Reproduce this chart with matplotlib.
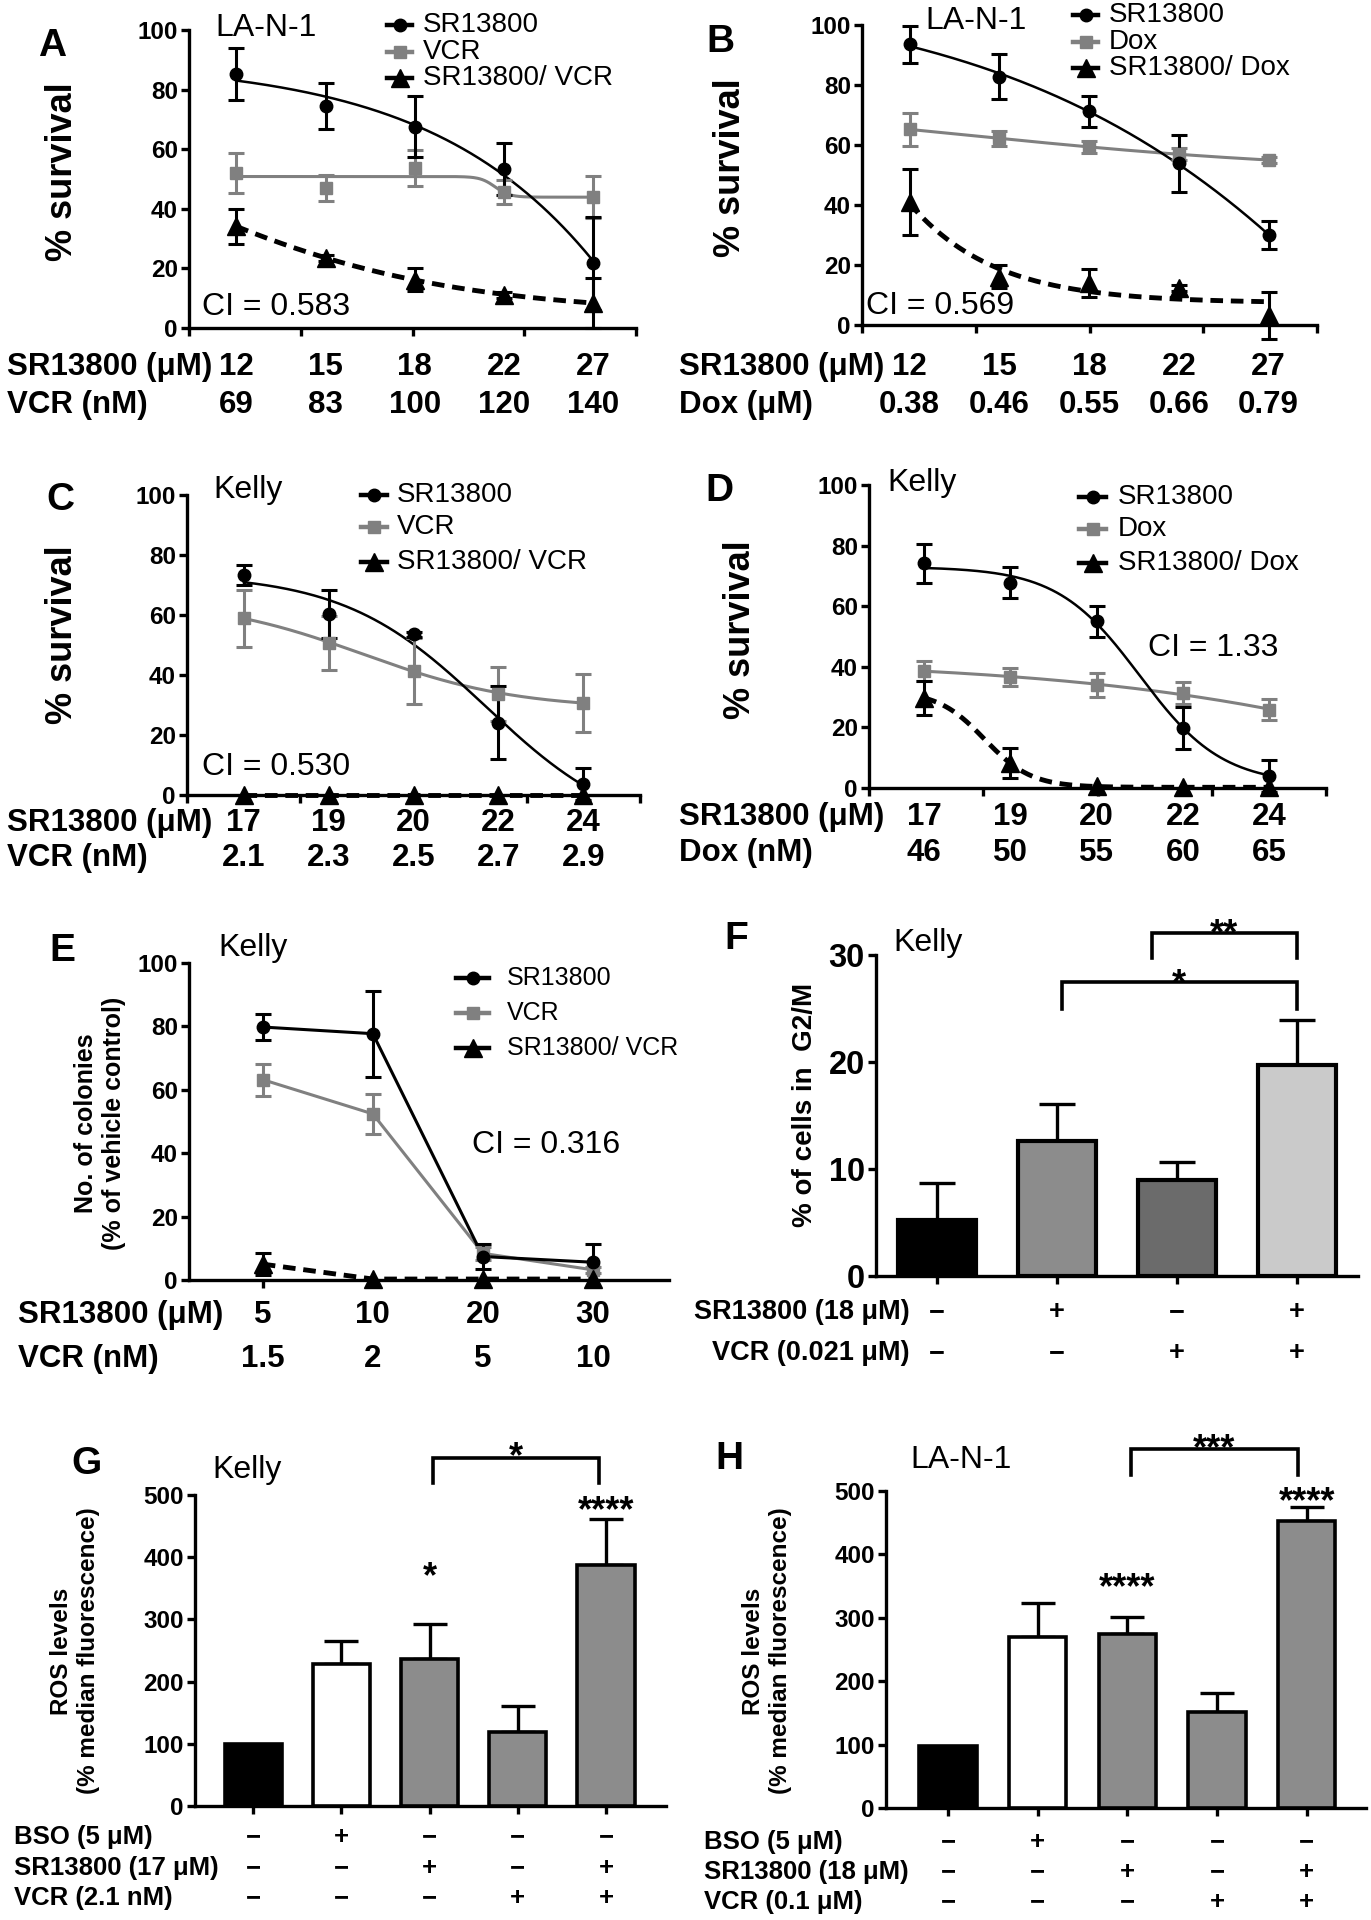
import numpy as np
import matplotlib
matplotlib.use("Agg")
import matplotlib.pyplot as plt
from matplotlib.lines import Line2D
from matplotlib.transforms import blended_transform_factory

W, H = 1371, 1920
plt.rcParams['font.family'] = ['Liberation Sans', 'DejaVu Sans']

# ---------------- data ----------------
# panel A  (LA-N-1, SR13800 + VCR)
sr_A = [85.3, 74.5, 67.6, 53.3, 21.8]
sr_A_err = [8.7, 7.6, 10.3, 8.7, 15.6]
vcr_A = [52.0, 46.9, 53.6, 45.5, 43.9]
vcr_A_err = [6.7, 4.3, 6.0, 4.0, 7.0]
combo_A = [34.1, 23.5, 16.2, 11.2, 8.4]
combo_A_err = [5.8, 1.0, 3.8, 1.0, 8.4]
sr_A_dose = ["12", "15", "18", "22", "27"]
vcr_A_dose = ["69", "83", "100", "120", "140"]

# panel B  (LA-N-1, SR13800 + Dox)
sr_B = [93.6, 82.8, 71.3, 53.9, 30.0]
sr_B_err = [6.2, 7.5, 5.2, 9.5, 4.8]
dox_B = [65.2, 62.2, 59.4, 56.9, 55.0]
dox_B_err = [5.4, 2.5, 2.0, 2.0, 1.0]
combo_B = [41.0, 16.1, 14.0, 12.4, 3.3]
combo_B_err = [11.0, 3.8, 4.8, 1.0, 7.8]
sr_B_dose = ["12", "15", "18", "22", "27"]
dox_B_dose = ["0.38", "0.46", "0.55", "0.66", "0.79"]

# panel C  (Kelly, SR13800 + VCR)
sr_C = [73.3, 60.4, 53.6, 24.1, 3.6]
sr_C_err = [3.4, 8.0, 0.8, 12.2, 5.3]
vcr_C = [58.9, 50.8, 41.4, 33.8, 30.8]
vcr_C_err = [9.4, 9.0, 11.0, 9.0, 9.7]
combo_C = [0.0, 0.0, 0.0, 0.0, 0.0]
combo_C_err = [0.0, 0.0, 0.0, 0.0, 0.0]
sr_C_dose = ["17", "19", "20", "22", "24"]
vcr_C_dose = ["2.1", "2.3", "2.5", "2.7", "2.9"]

# panel D  (Kelly, SR13800 + Dox)
sr_D = [74.2, 67.8, 55.0, 19.8, 4.1]
sr_D_err = [6.4, 5.0, 5.0, 6.9, 5.3]
dox_D = [38.7, 36.5, 34.1, 31.3, 25.8]
dox_D_err = [3.3, 3.0, 4.0, 3.7, 3.5]
combo_D = [29.7, 8.2, 0.5, 0.2, 0.2]
combo_D_err = [5.5, 5.0, 0.0, 0.0, 0.0]
sr_D_dose = ["17", "19", "20", "22", "24"]
dox_D_dose = ["46", "50", "55", "60", "65"]

# panel E  (Kelly colonies)
sr_E = [79.8, 77.7, 7.4, 5.6]
sr_E_err = [4.1, 13.6, 3.9, 5.7]
vcr_E = [63.2, 52.4, 8.4, 3.2]
vcr_E_err = [5.0, 6.2, 2.0, 1.0]
combo_E = [5.0, 0.3, 0.3, 0.3]
combo_E_err = [3.4, 0.0, 0.0, 0.0]
sr_E_dose = ["5", "10", "20", "30"]
vcr_E_dose = ["1.5", "2", "5", "10"]

# panel F  (G2/M)
g2m_F = [5.2, 12.6, 9.0, 19.7]
g2m_F_err = [3.5, 3.5, 1.7, 4.2]
sr_F_sign = ["−", "+", "−", "+"]
vcr_F_sign = ["−", "−", "+", "+"]

# panel G  (ROS, Kelly)
ros_G = [99, 228, 237, 119.5, 387.5]
ros_G_err = [0, 37, 55.5, 41.3, 74]
bso_G_sign = ["−", "+", "−", "−", "−"]
sr_G_sign = ["−", "−", "+", "−", "+"]
vcr_G_sign = ["−", "−", "−", "+", "+"]

# panel H  (ROS, LA-N-1)
ros_H = [98, 269, 274.4, 151, 452.8]
ros_H_err = [0, 54.7, 27.3, 31, 22.2]
bso_H_sign = ["−", "+", "−", "−", "−"]
sr_H_sign = ["−", "−", "+", "−", "+"]
vcr_H_sign = ["−", "−", "−", "+", "+"]

GRAY = "#808080"
DASH = (0, (2.6, 1.6))

fig = plt.figure(figsize=(W / 100, H / 100), dpi=100)
fig.patch.set_facecolor("white")


def ftext(x, y, s, **kw):
    return fig.text(x / W, 1 - y / H, s, **kw)


def add_axes_px(left, top, right, bottom):
    return fig.add_axes([left / W, 1 - bottom / H, (right - left) / W, (bottom - top) / H])


def style_axes(ax, xlim, ylim, yticks, xticks, tick_fs):
    ax.set_xlim(*xlim)
    ax.set_ylim(*ylim)
    ax.spines["top"].set_visible(False)
    ax.spines["right"].set_visible(False)
    ax.spines["left"].set_linewidth(2.4)
    ax.spines["bottom"].set_linewidth(2.4)
    ax.set_yticks(yticks, labels=[str(v) for v in yticks], fontsize=tick_fs, fontweight="bold")
    ax.set_xticks(xticks)
    ax.tick_params(axis="both", width=2.4, length=6, direction="out")
    ax.tick_params(axis="x", labelbottom=False)
    ax.tick_params(axis="y", pad=2)
    ax.patch.set_alpha(0)


def fit_sigmoid(y, hill_max=15):
    # 4-parameter logistic by grid search on centre / slope,
    # top and bottom solved by least squares
    y = np.asarray(y, float)
    x = np.arange(len(y), dtype=float)
    C, Hh = np.meshgrid(np.linspace(-3, 8, 221), np.linspace(0.2, hill_max, 150))
    C = C.ravel()[:, None]
    Hh = Hh.ravel()[:, None]
    S = 1 / (1 + np.exp(Hh * (x - C)))
    sm = S.mean(1, keepdims=True)
    ym = y.mean()
    var = ((S - sm) ** 2).sum(1, keepdims=True)
    cov = ((S - sm) * (y - ym)).sum(1, keepdims=True)
    b = np.where(var > 1e-12, cov / np.maximum(var, 1e-12), 0.0)
    a = ym - b * sm
    k = np.argmin(((a + b * S - y) ** 2).sum(1))
    xs = np.linspace(0, len(y) - 1, 300)
    return xs, a[k, 0] + b[k, 0] / (1 + np.exp(Hh[k, 0] * (xs - C[k, 0])))


def draw_series(ax, vals, errs, color, marker, ms, ls, lw, curve="fit"):
    x = np.arange(len(vals))
    if curve == "fit":
        xs, ys = fit_sigmoid(vals)
    else:
        xs, ys = x, np.asarray(vals)
    ax.plot(xs, ys, color=color, lw=lw, linestyle=ls, clip_on=False, zorder=2)
    errs = np.asarray(errs, float)
    keep = errs > 0
    if keep.any():
        eb = ax.errorbar(x[keep], np.asarray(vals)[keep], yerr=errs[keep], fmt="none",
                         ecolor=color, elinewidth=2.2, capsize=6, capthick=2.2, zorder=3)
        for a in eb.lines[1] + eb.lines[2]:
            a.set_clip_on(False)
    ax.plot(x, vals, linestyle="none", marker=marker, ms=ms, color=color,
            clip_on=False, zorder=4)


def legend_rows(x0, x1, xt, ys, entries, fs):
    for (label, color, marker, ms), y in zip(entries, ys):
        fy = 1 - y / H
        fig.add_artist(Line2D([x0 / W, x1 / W], [fy, fy], color=color, lw=3.2,
                              transform=fig.transFigure))
        fig.add_artist(Line2D([(x0 + x1) / 2 / W], [fy], color=color, marker=marker,
                              ms=ms, transform=fig.transFigure))
        ftext(xt, y, label, ha="left", va="center", fontsize=fs)


def dose_rows(ax, rows, x_label, ys, fs, ha="left"):
    tr = blended_transform_factory(ax.transData, fig.transFigure)
    for (title, vals), y in zip(rows, ys):
        ftext(x_label, y, title, ha=ha, va="center", fontsize=fs, fontweight="bold")
        for i, v in enumerate(vals):
            ax.text(i, 1 - y / H, v, transform=tr, ha="center", va="center",
                    fontsize=fs, fontweight="bold")


def bar_panel(ax, vals, errs, colors, width, edge_lw, cap):
    x = np.arange(len(vals))
    ax.bar(x, vals, width=width, color=colors, edgecolor="black", linewidth=edge_lw, zorder=3)
    errs = np.asarray(errs, float)
    keep = errs > 0
    ax.errorbar(x[keep], np.asarray(vals)[keep], yerr=[np.zeros(keep.sum()), errs[keep]],
                fmt="none", ecolor="black", elinewidth=2.4, capsize=cap, capthick=2.4, zorder=2)


def star(ax, x, y, label, fs):
    ax.annotate(label, xy=(x, y), xytext=(0, -0.6 * fs), textcoords="offset points",
                ha="center", va="baseline", fontsize=fs, fontweight="bold",
                annotation_clip=False)


def bracket(ax, x1, x2, y_top, y_leg, label, y_lab, fs):
    ax.plot([x1, x1, x2, x2], [y_leg, y_top, y_top, y_leg], color="black", lw=2.6,
            clip_on=False, solid_joinstyle="miter")
    star(ax, (x1 + x2) / 2, y_lab, label, fs)


LEG_FS = 20
TICK_FS = 17.5
ROW_FS = 22.5
LET_FS = 28
YL_FS = 26
NAME_FS = 23

# ---------------- panel A ----------------
axA = add_axes_px(189, 30, 636, 328)
xl = (-0.53, 4.48)
style_axes(axA, xl, (0, 100), np.arange(0, 101, 20), np.linspace(*xl, 5), TICK_FS)
draw_series(axA, vcr_A, vcr_A_err, GRAY, "s", 9, "-", 2.2)
draw_series(axA, sr_A, sr_A_err, "black", "o", 9, "-", 1.8)
draw_series(axA, combo_A, combo_A_err, "black", "^", 13, DASH, 3.5)
dose_rows(axA, [("SR13800 (μM)", sr_A_dose), ("VCR (nM)", vcr_A_dose)], 7, [367, 405], ROW_FS)
ftext(52, 46, "A", ha="center", va="center", fontsize=LET_FS, fontweight="bold")
ftext(62, 172, "% survival", rotation=90, ha="center", va="center", fontsize=YL_FS, fontweight="bold")
ftext(215, 28, "LA-N-1", ha="left", va="center", fontsize=NAME_FS)
ftext(202, 307, "CI = 0.583", ha="left", va="center", fontsize=NAME_FS)
legend_rows(387, 412, 423, [25, 52, 78],
            [("SR13800", "black", "o", 9), ("VCR", GRAY, "s", 9), ("SR13800/ VCR", "black", "^", 13)], LEG_FS)

# ---------------- panel B ----------------
axB = add_axes_px(862, 25, 1317, 325)
xl = (-0.53, 4.54)
style_axes(axB, xl, (0, 100), np.arange(0, 101, 20), np.linspace(*xl, 5), TICK_FS)
draw_series(axB, dox_B, dox_B_err, GRAY, "s", 9, "-", 2.2)
draw_series(axB, sr_B, sr_B_err, "black", "o", 9, "-", 1.8)
draw_series(axB, combo_B, combo_B_err, "black", "^", 13, DASH, 3.5)
dose_rows(axB, [("SR13800 (μM)", sr_B_dose), ("Dox (μM)", dox_B_dose)], 679, [367, 405], ROW_FS)
ftext(720, 42, "B", ha="center", va="center", fontsize=LET_FS, fontweight="bold")
ftext(731, 168, "% survival", rotation=90, ha="center", va="center", fontsize=YL_FS, fontweight="bold")
ftext(925, 21, "LA-N-1", ha="left", va="center", fontsize=NAME_FS)
ftext(866, 306, "CI = 0.569", ha="left", va="center", fontsize=NAME_FS)
legend_rows(1073, 1098, 1109, [15, 42, 68],
            [("SR13800", "black", "o", 9), ("Dox", GRAY, "s", 9), ("SR13800/ Dox", "black", "^", 13)], LEG_FS)

# ---------------- panel C ----------------
axC = add_axes_px(187, 495, 640, 795)
xl = (-0.67, 4.67)
style_axes(axC, xl, (0, 100), np.arange(0, 101, 20), np.linspace(*xl, 5), TICK_FS)
draw_series(axC, vcr_C, vcr_C_err, GRAY, "s", 9, "-", 2.2)
draw_series(axC, sr_C, sr_C_err, "black", "o", 9, "-", 1.8)
draw_series(axC, combo_C, combo_C_err, "black", "^", 13, DASH, 3.5)
dose_rows(axC, [("SR13800 (μM)", sr_C_dose), ("VCR (nM)", vcr_C_dose)], 7, [823, 858], ROW_FS)
ftext(60, 500, "C", ha="center", va="center", fontsize=LET_FS, fontweight="bold")
ftext(62, 635, "% survival", rotation=90, ha="center", va="center", fontsize=YL_FS, fontweight="bold")
ftext(213, 490, "Kelly", ha="left", va="center", fontsize=NAME_FS)
ftext(202, 767, "CI = 0.530", ha="left", va="center", fontsize=NAME_FS)
legend_rows(361, 387, 397, [495, 527, 562],
            [("SR13800", "black", "o", 9), ("VCR", GRAY, "s", 9), ("SR13800/ VCR", "black", "^", 13)], LEG_FS)

# ---------------- panel D ----------------
axD = add_axes_px(869, 485, 1326, 788)
xl = (-0.64, 4.66)
style_axes(axD, xl, (0, 100), np.arange(0, 101, 20), np.linspace(*xl, 5), TICK_FS)
draw_series(axD, dox_D, dox_D_err, GRAY, "s", 9, "-", 2.2)
draw_series(axD, sr_D, sr_D_err, "black", "o", 9, "-", 1.8)
draw_series(axD, combo_D, combo_D_err, "black", "^", 13, DASH, 3.5)
dose_rows(axD, [("SR13800 (μM)", sr_D_dose), ("Dox (nM)", dox_D_dose)], 679, [817, 853], ROW_FS)
ftext(719, 491, "D", ha="center", va="center", fontsize=LET_FS, fontweight="bold")
ftext(740, 630, "% survival", rotation=90, ha="center", va="center", fontsize=YL_FS, fontweight="bold")
ftext(887, 483, "Kelly", ha="left", va="center", fontsize=NAME_FS)
ftext(1148, 648, "CI = 1.33", ha="left", va="center", fontsize=NAME_FS)
legend_rows(1079, 1106, 1118, [497, 529, 563],
            [("SR13800", "black", "o", 9), ("Dox", GRAY, "s", 9), ("SR13800/ Dox", "black", "^", 13)], LEG_FS)

# ---------------- panel E ----------------
axE = add_axes_px(189, 963, 669, 1280)
xl = (-0.67, 3.69)
style_axes(axE, xl, (0, 100), np.arange(0, 101, 20), np.arange(len(sr_E)), TICK_FS)
draw_series(axE, vcr_E, vcr_E_err, GRAY, "s", 9, "-", 2.2, curve="line")
draw_series(axE, sr_E, sr_E_err, "black", "o", 9, "-", 2.2, curve="line")
draw_series(axE, combo_E, combo_E_err, "black", "^", 13, DASH, 3.5, curve="line")
dose_rows(axE, [("SR13800 (μM)", sr_E_dose), ("VCR (nM)", vcr_E_dose)], 18, [1315, 1359], ROW_FS)
ftext(62, 951, "E", ha="center", va="center", fontsize=LET_FS, fontweight="bold")
ftext(100, 1123, "No. of colonies\n(% of vehicle control)", rotation=90, ha="center", va="center",
      fontsize=18, fontweight="bold", multialignment="center", linespacing=1.25)
ftext(218, 948, "Kelly", ha="left", va="center", fontsize=NAME_FS)
ftext(472, 1145, "CI = 0.316", ha="left", va="center", fontsize=NAME_FS)
legend_rows(456, 489, 507, [978, 1013, 1048],
            [("SR13800", "black", "o", 9), ("VCR", GRAY, "s", 9), ("SR13800/ VCR", "black", "^", 13)], 18)

# ---------------- panel F ----------------
axF = add_axes_px(876, 955, 1358, 1276)
style_axes(axF, (-0.51, 3.51), (0, 30), [0, 10, 20, 30], np.arange(len(g2m_F)), 23.5)
bar_panel(axF, g2m_F, g2m_F_err, ["#000000", "#8c8c8c", "#6b6b6b", "#cacaca"], 0.65, 3.0, 13)
bracket(axF, 1.79, 3.0, 32.05, 29.7, "**", 33.0, 26)
bracket(axF, 1.04, 3.0, 27.5, 25.0, "*", 28.4, 26)
dose_rows(axF, [("SR13800 (18 μM)", sr_F_sign), ("VCR (0.021 μM)", vcr_F_sign)], 910, [1312, 1353],
          19.5, ha="right")
ftext(736, 939, "F", ha="center", va="center", fontsize=LET_FS, fontweight="bold")
ftext(805, 1105, "% of cells in  G2/M", rotation=90, ha="center", va="center", fontsize=20, fontweight="bold")
ftext(893, 943, "Kelly", ha="left", va="center", fontsize=NAME_FS)

# ---------------- panel G ----------------
axG = add_axes_px(195, 1495, 666, 1806)
style_axes(axG, (-0.66, 4.68), (0, 500), np.arange(0, 501, 100), np.arange(len(ros_G)), TICK_FS)
bar_panel(axG, ros_G, ros_G_err, ["black", "white", "#8c8c8c", "#8c8c8c", "#8c8c8c"], 0.65, 2.6, 12)
bracket(axG, 2.04, 3.92, 559, 519, "*", 580, 26)
star(axG, 2, 387, "*", 26)
star(axG, 4, 492, "****", 26)
dose_rows(axG, [("BSO (5 μM)", bso_G_sign), ("SR13800 (17 μM)", sr_G_sign), ("VCR (2.1 nM)", vcr_G_sign)],
          14, [1837, 1868, 1898], 18.5)
ftext(86, 1464, "G", ha="center", va="center", fontsize=LET_FS, fontweight="bold")
ftext(75, 1651, "ROS levels\n(% median fluorescence)", rotation=90, ha="center", va="center",
      fontsize=17.5, fontweight="bold", multialignment="center", linespacing=1.2)
ftext(212, 1470, "Kelly", ha="left", va="center", fontsize=NAME_FS)

# ---------------- panel H ----------------
axH = add_axes_px(886, 1491, 1366, 1808)
style_axes(axH, (-0.69, 4.66), (0, 500), np.arange(0, 501, 100), np.arange(len(ros_H)), TICK_FS)
bar_panel(axH, ros_H, ros_H_err, ["black", "white", "#8c8c8c", "#8c8c8c", "#8c8c8c"], 0.64, 2.6, 12)
bracket(axH, 2.04, 3.9, 566, 525, "***", 585, 26)
star(axH, 2, 365, "****", 26)
star(axH, 4, 500, "****", 26)
dose_rows(axH, [("BSO (5 μM)", bso_H_sign), ("SR13800 (18 μM)", sr_H_sign), ("VCR (0.1 μM)", vcr_H_sign)],
          704, [1842, 1872, 1902], 18.5)
ftext(729, 1459, "H", ha="center", va="center", fontsize=LET_FS, fontweight="bold")
ftext(767, 1651, "ROS levels\n(% median fluorescence)", rotation=90, ha="center", va="center",
      fontsize=17.5, fontweight="bold", multialignment="center", linespacing=1.2)
ftext(910, 1460, "LA-N-1", ha="left", va="center", fontsize=NAME_FS)

fig.savefig("out.png", dpi=100, facecolor="white")
